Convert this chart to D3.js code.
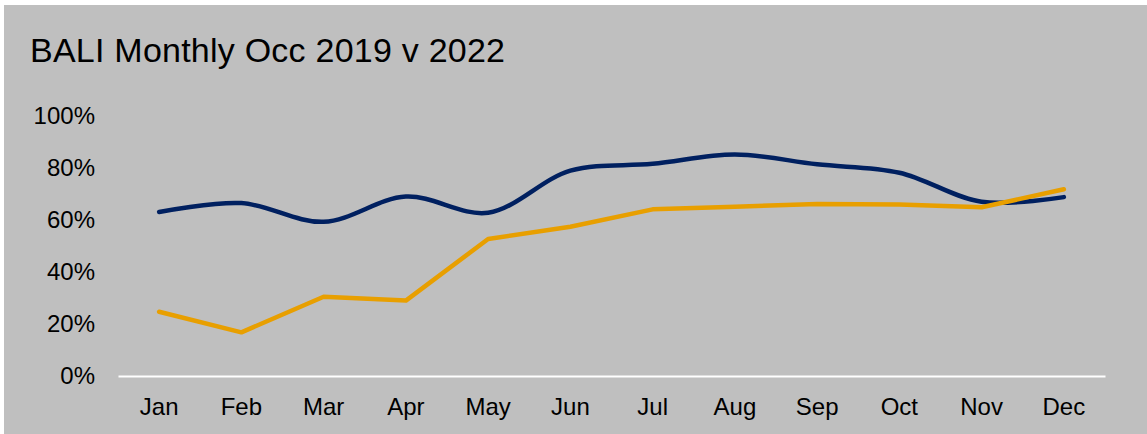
<!DOCTYPE html>
<html>
<head>
<meta charset="utf-8">
<script src="https://cdn.jsdelivr.net/npm/d3@7"></script>
<style>
  html, body { margin: 0; padding: 0; background: #ffffff; }
  svg { display: block; }
  text { font-family: "Liberation Sans", Arial, sans-serif; fill: #000; }
</style>
</head>
<body>
<svg id="chart" width="1147" height="434"></svg>
<script>
const titleText = "BALI Monthly Occ 2019 v 2022";
const months = ["Jan","Feb","Mar","Apr","May","Jun","Jul","Aug","Sep","Oct","Nov","Dec"];
const occ2019 = [0.631, 0.665, 0.593, 0.69, 0.628, 0.79, 0.816, 0.852, 0.814, 0.782, 0.67, 0.688];
const occ2022 = [0.247, 0.168, 0.305, 0.29, 0.527, 0.574, 0.641, 0.651, 0.662, 0.66, 0.649, 0.718];
const yTicks = [0, 0.2, 0.4, 0.6, 0.8, 1.0];

const W = 1147, H = 434;
const svg = d3.select("#chart");

// background panel
svg.append("rect").attr("x", 4).attr("y", 5).attr("width", W - 4).attr("height", H - 5).attr("fill", "#BFBFBF");

svg.append("text")
  .attr("x", 30).attr("y", 62)
  .attr("font-size", 34)
  .attr("textLength", 475)
  .attr("lengthAdjust", "spacing")
  .text(titleText);

const x = d3.scaleBand().domain(months).range([118, 1105]);
const y = d3.scaleLinear().domain([0, 1]).range([376, 116]);

// y tick labels
const yAxis = d3.axisLeft(y).tickValues(yTicks).tickFormat(d3.format(".0%")).tickSize(0).tickPadding(0);
const yg = svg.append("g").attr("transform", "translate(95,0)").call(yAxis);
yg.select(".domain").remove();
yg.selectAll("text").attr("font-size", 24).attr("fill", "#000").attr("font-family", "Liberation Sans, Arial, sans-serif");

// x axis
const xAxis = d3.axisBottom(x).tickSize(0).tickPadding(22);
const xg = svg.append("g").attr("transform", "translate(0,376)").call(xAxis);
xg.select(".domain").attr("stroke", "#ffffff").attr("stroke-width", 2);
xg.selectAll("text").attr("font-size", 24).attr("fill", "#000").attr("font-family", "Liberation Sans, Arial, sans-serif");

const cx = m => x(m) + x.bandwidth() / 2;

const line2019 = d3.line().x((d, i) => cx(months[i])).y(d => y(d)).curve(d3.curveCatmullRom.alpha(0.5));
const line2022 = d3.line().x((d, i) => cx(months[i])).y(d => y(d));

svg.append("path").datum(occ2019).attr("d", line2019)
  .attr("fill", "none").attr("stroke", "#002060").attr("stroke-width", 4.5)
  .attr("stroke-linecap", "round").attr("stroke-linejoin", "round");
svg.append("path").datum(occ2022).attr("d", line2022)
  .attr("fill", "none").attr("stroke", "#E89F00").attr("stroke-width", 4.5)
  .attr("stroke-linecap", "round").attr("stroke-linejoin", "round");
</script>
</body>
</html>
